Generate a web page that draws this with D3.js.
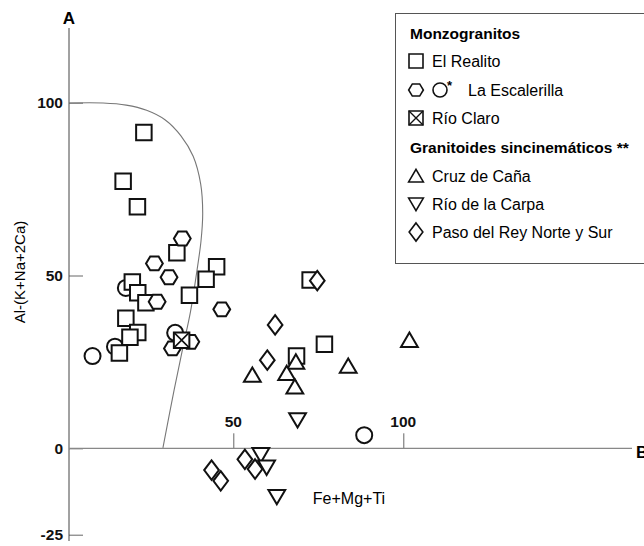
<!DOCTYPE html>
<html>
<head>
<meta charset="utf-8">
<script src="https://cdn.jsdelivr.net/npm/d3@7"></script>
<style>
  body { margin: 0; background: #fff; }
  svg { display: block; font-family: "Liberation Sans", Arial, sans-serif; }
</style>
</head>
<body>
<svg id="chart" width="644" height="546"></svg>
<script>
// Series: [Fe+Mg+Ti, Al-(K+Na+2Ca)]
const elRealito = [
  [23.7, 91.4], [17.6, 77.3], [21.8, 69.9], [33.4, 56.6], [45.1, 52.5],
  [42.0, 48.9], [20.3, 48.1], [21.9, 45.0], [37.1, 44.3], [24.3, 42.1],
  [18.4, 37.6], [21.9, 33.5], [19.6, 32.1], [16.5, 27.6], [72.6, 48.7],
  [76.8, 30.1], [68.6, 26.7]
];
const escalerillaHex = [
  [35.0, 60.7], [26.8, 53.5], [31.1, 49.5], [27.6, 42.4], [46.6, 40.2],
  [37.5, 30.8], [32.1, 28.9]
];
const escalerillaCircle = [
  [18.4, 46.4], [32.9, 33.4], [15.2, 29.4], [8.6, 26.7], [88.5, 3.8]
];
const rioClaro = [[34.8, 31.3]];
const cruzDeCana = [
  [101.8, 31.3], [68.4, 25.0], [55.6, 21.2], [65.7, 21.7], [83.8, 23.8], [68.1, 17.8]
];
const rioDeLaCarpa = [[68.9, 8.2], [58.1, -1.9], [59.8, -5.5], [62.8, -14.0]];
const pasoDelRey = [
  [74.7, 48.5], [62.3, 35.7], [60.0, 25.5], [53.4, -3.2], [56.4, -6.0],
  [43.6, -6.3], [46.3, -9.4]
];
// Boundary curve of the diagram
const boundary = [
  [1.7, 99.9], [11.7, 99.9], [18.5, 99.3], [24.5, 97.8], [30.0, 95.0],
  [34.6, 90.4], [38.2, 84.5], [40.4, 76.5], [41.0, 68.0], [40.5, 60.0],
  [39.2, 50.7], [37.4, 39.5], [35.2, 29.3], [32.6, 16.9], [29.3, 0.1]
];
const yTicks = [100, 50, 0, -25];
const xTicks = [50, 100];
const legendItems = [
  { type: "header", text: "Monzogranitos" },
  { type: "item", symbols: ["square"], text: "El Realito" },
  { type: "item", symbols: ["hexagon", "circle"], text: "La Escalerilla" },
  { type: "item", symbols: ["crossSquare"], text: "Río Claro" },
  { type: "header", text: "Granitoides sincinemáticos **" },
  { type: "item", symbols: ["triangleUp"], text: "Cruz de Caña" },
  { type: "item", symbols: ["triangleDown"], text: "Río de la Carpa" },
  { type: "item", symbols: ["diamond"], text: "Paso del Rey Norte y Sur" }
];

const svg = d3.select("#chart");
const x = d3.scaleLinear().domain([50, 100]).range([233.3, 403.3]);
const y = d3.scaleLinear().domain([0, 100]).range([448.3, 102.7]);
const axisX = 69;           // pixel position of the vertical axis
const axisColor = "#666";

// Symbol path builders (size = nominal width in px)
function shapePath(type, s) {
  const h = s / 2;
  switch (type) {
    case "square":
    case "crossSquare":
      return `M${-h},${-h}H${h}V${h}H${-h}Z`;
    case "circle":
      return d3.symbol(d3.symbolCircle, Math.PI * h * h)();
    case "hexagon": {
      const pts = d3.range(6).map(i => {
        const a = Math.PI / 3 * i;
        return [h * 1.05 * Math.cos(a), h * 1.05 * Math.sin(a) * 0.95];
      });
      return "M" + pts.map(p => p.join(",")).join("L") + "Z";
    }
    case "triangleUp":
      return `M0,${-h * 0.95}L${h * 1.05},${h * 0.85}L${-h * 1.05},${h * 0.85}Z`;
    case "triangleDown":
      return `M0,${h * 0.95}L${h * 1.05},${-h * 0.85}L${-h * 1.05},${-h * 0.85}Z`;
    case "diamond":
      return `M0,${-h * 1.3}L${h * 0.98},0L0,${h * 1.3}L${-h * 0.98},0Z`;
  }
}

// Axes
const yAxis = d3.axisRight(y).tickValues(yTicks).tickSize(14).tickFormat("");
const gY = svg.append("g").attr("transform", `translate(${axisX},0)`).call(yAxis);
gY.select(".domain").remove();
gY.selectAll("line").attr("stroke", axisColor);
svg.append("line").attr("x1", axisX).attr("x2", axisX).attr("y1", 28).attr("y2", 541)
  .attr("stroke", "#444").attr("stroke-width", 1);
svg.append("g").selectAll("text").data(yTicks).join("text")
  .attr("x", 63).attr("y", d => y(d)).attr("dy", "0.36em")
  .attr("text-anchor", "end").attr("font-size", 15.5).attr("font-weight", "bold")
  .attr("fill", "#111").text(d => d);

const xAxis = d3.axisTop(x).tickValues(xTicks).tickSize(15).tickFormat("");
const gX = svg.append("g").attr("transform", `translate(0,${y(0)})`).call(xAxis);
gX.select(".domain").remove();
gX.selectAll("line").attr("stroke", axisColor);
svg.append("line").attr("x1", axisX).attr("x2", 632).attr("y1", y(0)).attr("y2", y(0))
  .attr("stroke", "#888").attr("stroke-width", 1.2);
svg.append("g").selectAll("text").data(xTicks).join("text")
  .attr("x", d => x(d)).attr("y", y(0) - 27).attr("dy", "0.36em")
  .attr("text-anchor", "middle").attr("font-size", 15.5).attr("font-weight", "bold")
  .attr("fill", "#111").text(d => d);

// Axis names
svg.append("text").attr("x", axisX).attr("y", 18).attr("dy", "0.36em")
  .attr("text-anchor", "middle").attr("font-size", 17).attr("font-weight", "bold").text("A");
svg.append("text").attr("x", 636).attr("y", 452).attr("dy", "0.36em")
  .attr("text-anchor", "start").attr("font-size", 17).attr("font-weight", "bold").text("B");
svg.append("text").attr("transform", "translate(20,272) rotate(-90)").attr("dy", "0.36em")
  .attr("text-anchor", "middle").attr("font-size", 15).text("Al-(K+Na+2Ca)");
svg.append("text").attr("x", 349).attr("y", 498).attr("dy", "0.36em")
  .attr("text-anchor", "middle").attr("font-size", 16).text("Fe+Mg+Ti");

// Boundary curve
svg.append("path").datum(boundary)
  .attr("d", d3.line().x(d => x(d[0])).y(d => y(d[1])).curve(d3.curveCatmullRom.alpha(0.5)))
  .attr("fill", "none").attr("stroke", "#777").attr("stroke-width", 1.1);

// Data points
const series = [
  { data: escalerillaCircle, type: "circle", size: 16 },
  { data: elRealito, type: "square", size: 15.5 },
  { data: escalerillaHex, type: "hexagon", size: 16 },
  { data: rioClaro, type: "crossSquare", size: 15.5 },
  { data: cruzDeCana, type: "triangleUp", size: 16 },
  { data: rioDeLaCarpa, type: "triangleDown", size: 16 },
  { data: pasoDelRey, type: "diamond", size: 15 }
];
const gPts = svg.append("g");
series.forEach(s => {
  const g = gPts.append("g").selectAll("g").data(s.data).join("g")
    .attr("transform", d => `translate(${x(d[0])},${y(d[1])})`);
  g.append("path").attr("d", shapePath(s.type, s.size))
    .attr("fill", "#fff").attr("stroke", "#111").attr("stroke-width", 2)
    .attr("stroke-linejoin", "miter");
  if (s.type === "crossSquare") {
    const h = s.size / 2;
    g.append("path").attr("d", `M${-h},${-h}L${h},${h}M${h},${-h}L${-h},${h}`)
      .attr("stroke", "#111").attr("stroke-width", 1.6);
  }
});

// Legend
const lg = svg.append("g");
lg.append("rect").attr("x", 395.5).attr("y", 13.5).attr("width", 260).attr("height", 250)
  .attr("fill", "#fff").attr("stroke", "#555").attr("stroke-width", 1);
const rowY = [33, 61, 90, 118, 147, 176, 204, 232];
legendItems.forEach((it, i) => {
  const yy = rowY[i];
  if (it.type === "header") {
    lg.append("text").attr("x", 410).attr("y", yy).attr("dy", "0.36em")
      .attr("font-size", 15.5).attr("font-weight", "bold").text(it.text);
    return;
  }
  it.symbols.forEach((sym, k) => {
    const cx = 416 + k * 24;
    const sg = lg.append("g").attr("transform", `translate(${cx},${yy})`);
    sg.append("path").attr("d", shapePath(sym, 14)).attr("fill", "#fff")
      .attr("stroke", "#111").attr("stroke-width", 1.6);
    if (sym === "crossSquare") {
      sg.append("path").attr("d", "M-7,-7L7,7M7,-7L-7,7")
        .attr("stroke", "#111").attr("stroke-width", 1.4);
    }
  });
  if (it.symbols.length > 1) {
    lg.append("text").attr("x", 447).attr("y", yy - 5).attr("dy", "0.36em")
      .attr("font-size", 13).attr("font-weight", "bold").text("*");
  }
  lg.append("text").attr("x", it.symbols.length > 1 ? 468 : 432).attr("y", yy).attr("dy", "0.36em")
    .attr("font-size", 16).text(it.text);
});
</script>
</body>
</html>
